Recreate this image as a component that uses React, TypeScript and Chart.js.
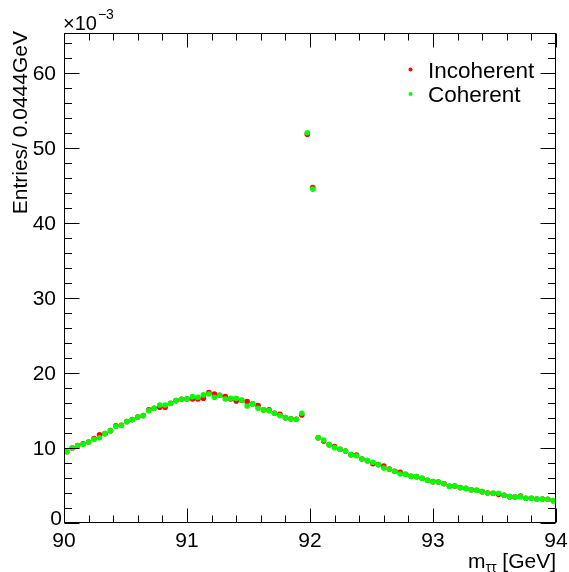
import React, { useEffect, useRef } from "react";
import { Chart, registerables } from "chart.js";

Chart.register(...registerables);

// ---- axis definition ----
const X_MIN = 90;
const X_MAX = 94;
const N_BINS = 90; // 4 GeV / 0.0444 GeV
const Y_MIN = 0;
const Y_MAX = 65.3; // in units of 1e-3

const xTickLabels = [90, 91, 92, 93, 94];
const yTickLabels = [0, 10, 20, 30, 40, 50, 60];

const seriesNames = ["Incoherent", "Coherent"];
const seriesColors = ["rgb(255,0,0)", "rgb(0,255,0)"];

// ---- values (x 1e-3), one per bin ----
const incoherent = [
  9.51, 10.0, 10.31, 10.57, 10.8, 11.24, 11.77, 11.91, 12.31, 12.97,
  13.03, 13.51, 13.77, 14.13, 14.31, 15.1, 15.29, 15.43, 15.43, 15.96,
  16.31, 16.49, 16.53, 16.53, 16.53, 16.62, 17.37, 17.2, 17.03, 16.84,
  16.53, 16.27, 16.36, 16.17, 15.87, 15.64, 15.07, 15.1, 14.63, 14.49,
  14.04, 13.87, 13.83, 14.4, 51.8, 44.7, 11.37, 10.93, 10.44, 10.18,
  9.82, 9.6, 9.11, 9.04, 8.53, 8.31, 7.91, 7.78, 7.6, 7.2,
  6.89, 6.76, 6.49, 6.22, 6.18, 5.96, 5.69, 5.51, 5.47, 5.24,
  4.89, 4.93, 4.71, 4.62, 4.44, 4.36, 4.18, 4.0, 3.96, 3.82,
  3.69, 3.51, 3.47, 3.6, 3.29, 3.29, 3.2, 3.2, 3.16, 2.98,
];

const coherent = [
  9.51, 10.0, 10.31, 10.49, 10.8, 11.16, 11.37, 11.91, 12.31, 12.89,
  13.03, 13.51, 13.77, 14.13, 14.31, 14.97, 15.29, 15.73, 15.73, 15.96,
  16.31, 16.49, 16.53, 16.84, 16.76, 17.07, 17.2, 16.76, 17.03, 16.53,
  16.62, 16.62, 16.36, 15.6, 15.87, 15.29, 15.07, 14.97, 14.63, 14.31,
  14.04, 13.87, 13.83, 14.63, 52.0, 44.5, 11.37, 11.07, 10.44, 10.04,
  9.82, 9.6, 9.11, 8.97, 8.53, 8.31, 8.09, 7.78, 7.33, 7.2,
  6.89, 6.53, 6.49, 6.22, 6.18, 5.96, 5.69, 5.51, 5.47, 5.24,
  4.89, 4.93, 4.71, 4.58, 4.44, 4.36, 4.18, 4.0, 3.96, 3.96,
  3.69, 3.51, 3.47, 3.51, 3.29, 3.29, 3.2, 3.2, 3.16, 2.98,
];

const binWidth = (X_MAX - X_MIN) / N_BINS;
const binCenters = coherent.map((_, i) => X_MIN + (i + 0.5) * binWidth);

const FONT = '"Liberation Sans", Arial, Helvetica, sans-serif';

const rootStyle = {
  id: "rootStyle",
  afterDraw(chart: any) {
    const { ctx, chartArea: a, scales } = chart;
    const xs = scales.x;
    const ys = scales.y;
    ctx.save();
    ctx.strokeStyle = "#000";
    ctx.fillStyle = "#000";
    ctx.lineWidth = 1;
    const L = Math.round(a.left) + 0.5;
    const R = Math.round(a.right) - 0.5;
    const T = Math.round(a.top) + 0.5;
    const B = Math.round(a.bottom) - 0.5;
    ctx.strokeRect(L, T, R - L, B - T);

    ctx.beginPath();
    // x ticks (bottom & top), inward
    const xStep = 0.2;
    for (let k = 0; k <= Math.round((X_MAX - X_MIN) / xStep); k++) {
      const v = X_MIN + k * xStep;
      const major = k % 5 === 0;
      const len = major ? 14 : 7;
      const px = Math.round(xs.getPixelForValue(v)) + 0.5;
      ctx.moveTo(px, B);
      ctx.lineTo(px, B - len);
      ctx.moveTo(px, T);
      ctx.lineTo(px, T + len);
    }
    // y ticks (left & right), inward
    const yStep = 2;
    for (let k = 0; Y_MIN + k * yStep <= Y_MAX; k++) {
      const v = Y_MIN + k * yStep;
      const major = k % 5 === 0;
      const len = major ? 15 : 7.5;
      const py = Math.round(ys.getPixelForValue(v)) + 0.5;
      ctx.moveTo(L, py);
      ctx.lineTo(L + len, py);
      ctx.moveTo(R, py);
      ctx.lineTo(R - len, py);
    }
    ctx.stroke();

    // x tick labels
    ctx.font = `21px ${FONT}`;
    ctx.textBaseline = "alphabetic";
    ctx.textAlign = "center";
    xTickLabels.forEach((v) => {
      ctx.fillText(String(v), xs.getPixelForValue(v), 547);
    });
    // y tick labels
    ctx.textAlign = "right";
    yTickLabels.forEach((v) => {
      const py = ys.getPixelForValue(v);
      if (v === 0) {
        ctx.fillText(String(v), 62, py + 1.5);
      } else {
        ctx.fillText(String(v), 56, py + 7.5);
      }
    });

    // exponent label
    ctx.textAlign = "left";
    ctx.font = `20px ${FONT}`;
    ctx.fillText("\u00d710", 63, 30);
    const w10 = ctx.measureText("\u00d710").width;
    ctx.font = `14px ${FONT}`;
    ctx.fillText("\u22123", 63 + w10 + 1, 19);

    // x axis title: m_{tautau} [GeV], right aligned at frame end
    ctx.font = `21px ${FONT}`;
    const tail = " [GeV]";
    const wTail = ctx.measureText(tail).width;
    const wM = ctx.measureText("m").width;
    ctx.font = `14px ${FONT}`;
    const wSub = ctx.measureText("\u03c4\u03c4").width;
    const xStart = a.right - wTail - wSub - wM;
    ctx.font = `21px ${FONT}`;
    ctx.fillText("m", xStart, 568);
    ctx.font = `14px ${FONT}`;
    ctx.fillText("\u03c4\u03c4", xStart + wM, 572);
    ctx.font = `21px ${FONT}`;
    ctx.fillText(tail, xStart + wM + wSub, 568);

    // y axis title
    ctx.save();
    ctx.translate(27, 31);
    ctx.rotate(-Math.PI / 2);
    ctx.textAlign = "right";
    ctx.font = `21px ${FONT}`;
    ctx.fillText("Entries/ 0.0444GeV", 0, 0);
    ctx.restore();

    // legend
    ctx.font = `22.5px ${FONT}`;
    ctx.textAlign = "left";
    const legendY = [69.5, 94];
    seriesNames.forEach((name, i) => {
      ctx.fillStyle = seriesColors[i];
      ctx.beginPath();
      ctx.arc(410.5, legendY[i], 2, 0, Math.PI * 2);
      ctx.fill();
      ctx.fillStyle = "#000";
      ctx.fillText(name, 428, legendY[i] + 8);
    });

    ctx.restore();
  },
};

export default function App() {
  const ref = useRef<HTMLCanvasElement | null>(null);
  useEffect(() => {
    if (!ref.current) return;
    const chart = new Chart(ref.current, {
      type: "scatter",
      data: {
        datasets: [
          {
            label: seriesNames[0],
            data: incoherent.map((y, i) => ({ x: binCenters[i], y })),
            backgroundColor: seriesColors[0],
            borderColor: seriesColors[0],
            borderWidth: 0,
            pointRadius: 2.8,
            order: 1,
          },
          {
            label: seriesNames[1],
            data: coherent.map((y, i) => ({ x: binCenters[i], y })),
            backgroundColor: seriesColors[1],
            borderColor: seriesColors[1],
            borderWidth: 0,
            pointRadius: 2.8,
            order: 0,
          },
        ],
      },
      options: {
        animation: false,
        responsive: false,
        devicePixelRatio: 1,
        layout: { padding: { left: 64, right: 13, top: 33, bottom: 49 } },
        plugins: { legend: { display: false }, tooltip: { enabled: false } },
        scales: {
          x: { type: "linear", min: X_MIN, max: X_MAX, display: false },
          y: { type: "linear", min: Y_MIN, max: Y_MAX, display: false },
        },
      },
      plugins: [rootStyle],
    });
    return () => chart.destroy();
  }, []);
  return (
    <div style={{ position: "fixed", left: 0, top: 0, width: 569, height: 572, background: "#fff" }}>
      <canvas ref={ref} width={569} height={572} />
    </div>
  );
}
